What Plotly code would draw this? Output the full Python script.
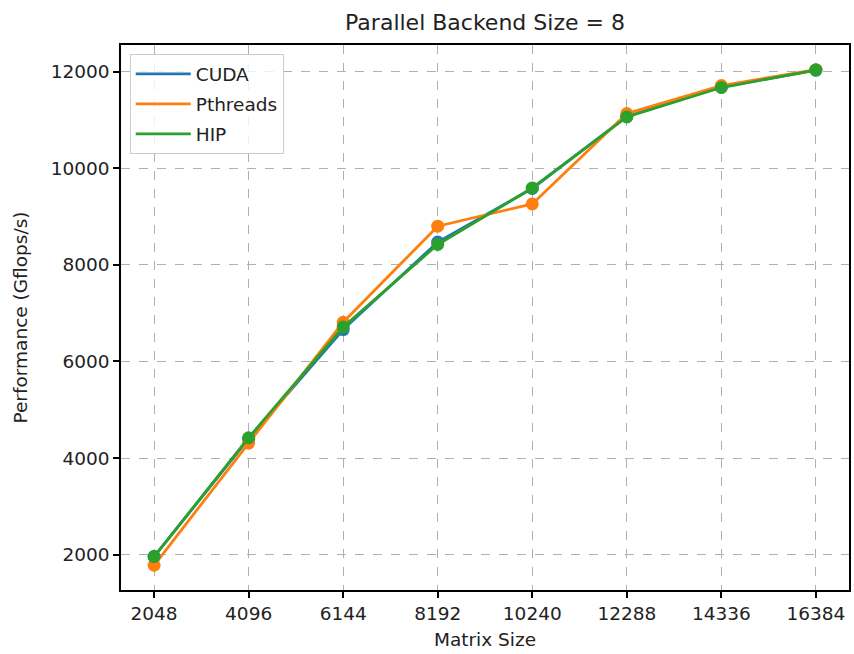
import plotly.graph_objects as go

matrix_sizes = [2048, 4096, 6144, 8192, 10240, 12288, 14336, 16384]
cuda = [1960, 4400, 6660, 8470, 9580, 11070, 11680, 12030]
pthreads = [1780, 4310, 6810, 8800, 9260, 11130, 11710, 12040]
hip = [1960, 4420, 6710, 8420, 9590, 11060, 11670, 12030]
y_ticks = [2000, 4000, 6000, 8000, 10000, 12000]

series = [("CUDA", cuda, "#1f77b4"), ("Pthreads", pthreads, "#ff7f0e"), ("HIP", hip, "#2ca02c")]

fig = go.Figure()
for name, vals, col in series:
    fig.add_trace(go.Scatter(x=matrix_sizes, y=vals, mode="lines", name=name,
                             legendgroup=name, line=dict(color=col, width=2.8)))
    fig.add_trace(go.Scatter(x=matrix_sizes, y=vals, mode="markers", name=name,
                             legendgroup=name, showlegend=False,
                             marker=dict(color=col, size=13)))

axis_common = dict(
    showline=True, linecolor="black", linewidth=1.5, mirror=True,
    ticks="outside", ticklen=6, tickwidth=1.5, tickcolor="black",
    showgrid=True, gridcolor="#b0b0b0", griddash="dash", gridwidth=1.3,
    zeroline=False, tickfont=dict(size=18.5, color="#222222"),
)

fig.update_layout(
    width=854, height=654,
    margin=dict(l=121, r=3, t=45, b=64),
    paper_bgcolor="white", plot_bgcolor="white",
    font=dict(family="DejaVu Sans", color="#222222"),
    title=dict(text="Parallel Backend Size = 8", x=0.5, xanchor="center",
               xref="paper", y=0.966, yanchor="middle", font=dict(size=22)),
    xaxis=dict(axis_common, range=[1331, 17101], tickvals=matrix_sizes,
               ticktext=[str(v) for v in matrix_sizes],
               title=dict(text="Matrix Size", font=dict(size=18.5), standoff=10)),
    yaxis=dict(axis_common, range=[1268, 12550], tickvals=y_ticks,
               ticktext=[str(v) for v in y_ticks],
               title=dict(text="Performance (Gflops/s)", font=dict(size=18.5), standoff=18)),
    legend=dict(x=0.012, y=0.983, xanchor="left", yanchor="top",
                bgcolor="rgba(255,255,255,0.8)", bordercolor="#cccccc", borderwidth=1,
                font=dict(size=18.5), tracegroupgap=3, itemwidth=55),
    showlegend=True,
)

fig.write_html("out.html")
